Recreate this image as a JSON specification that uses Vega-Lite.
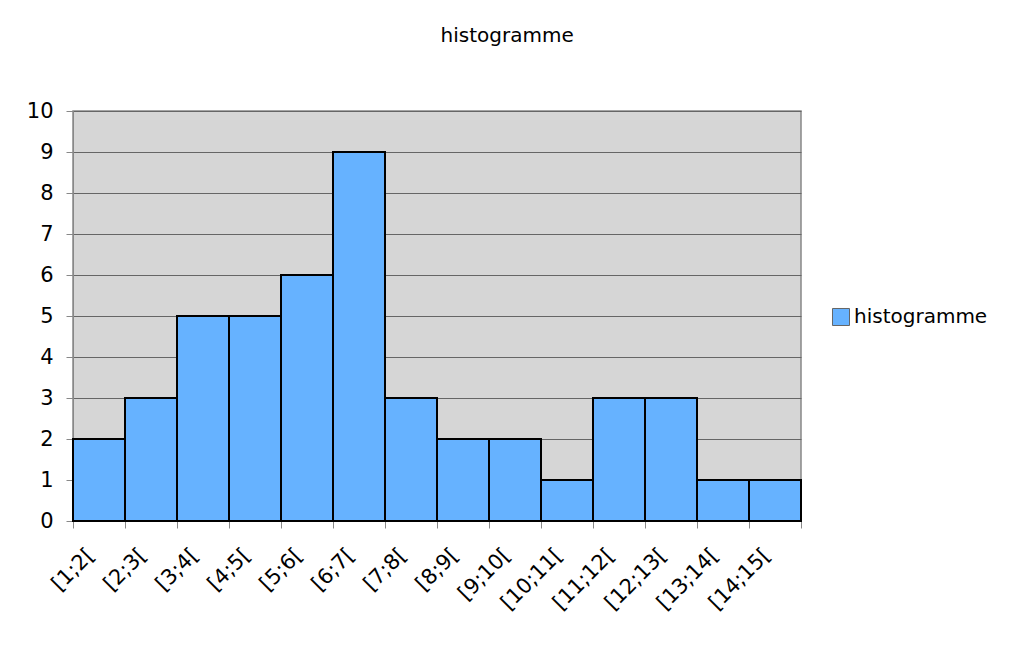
{
  "$schema": "https://vega.github.io/schema/vega-lite/v6.json",
  "width": 728,
  "height": 410,
  "padding": {"left": 26, "top": 26, "right": 5, "bottom": 5},
  "background": "white",
  "title": {"text": "histogramme", "fontSize": 20, "font": "DejaVu Sans", "fontWeight": "normal", "color": "black", "anchor": "middle", "frame": "bounds", "offset": 54},
  "config": {
    "font": "DejaVu Sans",
    "view": {"fill": "#d6d6d6", "stroke": "#888888", "strokeWidth": 1.5}
  },
  "data": {
    "values": [
      {"classe": "[1;2[", "effectif": 2, "serie": "histogramme"},
      {"classe": "[2;3[", "effectif": 3, "serie": "histogramme"},
      {"classe": "[3;4[", "effectif": 5, "serie": "histogramme"},
      {"classe": "[4;5[", "effectif": 5, "serie": "histogramme"},
      {"classe": "[5;6[", "effectif": 6, "serie": "histogramme"},
      {"classe": "[6;7[", "effectif": 9, "serie": "histogramme"},
      {"classe": "[7;8[", "effectif": 3, "serie": "histogramme"},
      {"classe": "[8;9[", "effectif": 2, "serie": "histogramme"},
      {"classe": "[9;10[", "effectif": 2, "serie": "histogramme"},
      {"classe": "[10;11[", "effectif": 1, "serie": "histogramme"},
      {"classe": "[11;12[", "effectif": 3, "serie": "histogramme"},
      {"classe": "[12;13[", "effectif": 3, "serie": "histogramme"},
      {"classe": "[13;14[", "effectif": 1, "serie": "histogramme"},
      {"classe": "[14;15[", "effectif": 1, "serie": "histogramme"}
    ]
  },
  "mark": {"type": "bar", "stroke": "black", "strokeWidth": 2},
  "encoding": {
    "x": {
      "field": "classe", "type": "nominal", "sort": null,
      "scale": {"paddingInner": 0, "paddingOuter": 0},
      "axis": {"title": null, "labelAngle": -45, "labelFontSize": 21, "labelColor": "black", "tickBand": "extent", "tickSize": 7, "tickColor": "#888888", "domainColor": "#444444", "labelPadding": 16, "labelOffset": -16}
    },
    "y": {
      "field": "effectif", "type": "quantitative",
      "scale": {"domain": [0, 10]},
      "axis": {"title": null, "values": [0,1,2,3,4,5,6,7,8,9,10], "labelFontSize": 21, "labelColor": "black", "tickSize": 7, "tickColor": "#888888", "domainColor": "#888888", "gridColor": "#666666", "gridWidth": 1, "gridOpacity": 1, "labelPadding": 13}
    },
    "color": {
      "field": "serie", "type": "nominal",
      "scale": {"range": ["#66b2ff"]},
      "legend": {"title": null, "orient": "none", "legendX": 758, "legendY": 196, "symbolType": "square", "symbolSize": 290, "symbolStrokeColor": "#666666", "symbolStrokeWidth": 1, "labelFontSize": 20, "labelColor": "black", "labelOffset": 3}
    }
  }
}
